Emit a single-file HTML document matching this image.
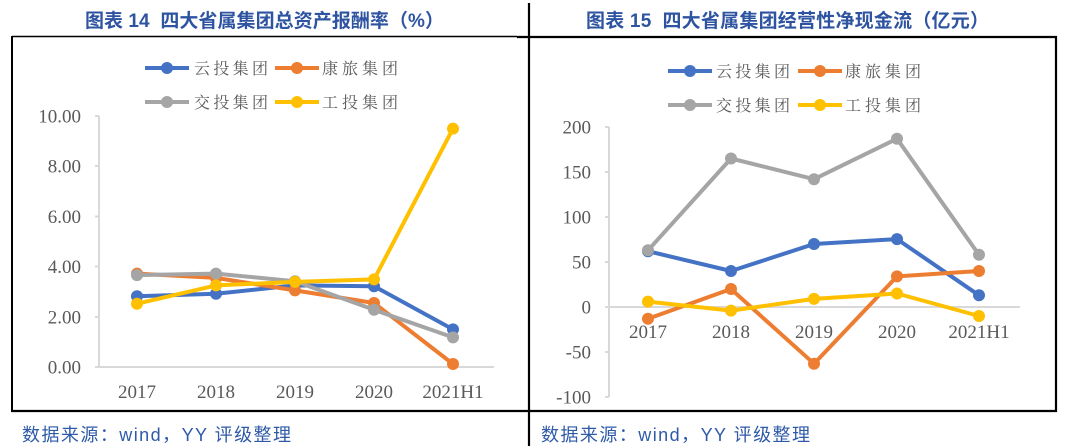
<!DOCTYPE html>
<html>
<head>
<meta charset="utf-8">
<style>
html,body{margin:0;padding:0;background:#fff;}
svg{display:block;}
</style>
</head>
<body>
<svg width="1070" height="446" viewBox="0 0 1070 446" xmlns="http://www.w3.org/2000/svg">
<rect width="1070" height="446" fill="#fff"/>

<!-- frames -->
<line x1="529" y1="3" x2="529" y2="446" stroke="#000" stroke-width="2.2"/>
<line x1="12" y1="36.5" x2="517" y2="36.5" stroke="#000" stroke-width="1.6"/>
<line x1="12" y1="36" x2="12" y2="411" stroke="#000" stroke-width="2"/>
<line x1="11" y1="411" x2="1057" y2="411" stroke="#000" stroke-width="2.2"/>
<line x1="517" y1="37" x2="1057" y2="37" stroke="#000" stroke-width="2.2"/>
<line x1="1056" y1="36" x2="1056" y2="412" stroke="#000" stroke-width="2.2"/>

<!-- titles -->
<text x="85" y="27" style="white-space:pre" font-family="'Liberation Sans','Noto Sans CJK SC',sans-serif" font-weight="bold" font-size="19" fill="#2E54A1" textLength="359" lengthAdjust="spacing">图表 14  四大省属集团总资产报酬率（%）</text>
<text x="586" y="27" style="white-space:pre" font-family="'Liberation Sans','Noto Sans CJK SC',sans-serif" font-weight="bold" font-size="19" fill="#2E54A1" textLength="403" lengthAdjust="spacing">图表 15  四大省属集团经营性净现金流（亿元）</text>

<!-- sources -->
<text x="22" y="441" font-family="'Liberation Sans','Noto Sans CJK SC',sans-serif" font-size="18" fill="#2E5AA8" textLength="269" lengthAdjust="spacing">数据来源：wind，YY 评级整理</text>
<text x="541" y="441" font-family="'Liberation Sans','Noto Sans CJK SC',sans-serif" font-size="18" fill="#2E5AA8" textLength="269" lengthAdjust="spacing">数据来源：wind，YY 评级整理</text>

<!-- ===== LEFT CHART ===== -->
<g font-family="'Noto Serif CJK SC','Liberation Serif',serif" font-size="16" fill="#595959">
  <line x1="145" y1="68" x2="189" y2="68" stroke="#4472C4" stroke-width="4"/><circle cx="167" cy="68" r="6" fill="#4472C4"/>
  <text x="194" y="74" textLength="74" lengthAdjust="spacing">云投集团</text>
  <line x1="275" y1="68" x2="319" y2="68" stroke="#ED7D31" stroke-width="4"/><circle cx="297" cy="68" r="6" fill="#ED7D31"/>
  <text x="322" y="74" textLength="76" lengthAdjust="spacing">康旅集团</text>
  <line x1="145" y1="102" x2="189" y2="102" stroke="#A5A5A5" stroke-width="4"/><circle cx="167" cy="102" r="6" fill="#A5A5A5"/>
  <text x="194" y="108" textLength="74" lengthAdjust="spacing">交投集团</text>
  <line x1="275" y1="102" x2="319" y2="102" stroke="#FFC000" stroke-width="4"/><circle cx="297" cy="102" r="6" fill="#FFC000"/>
  <text x="322" y="108" textLength="76" lengthAdjust="spacing">工投集团</text>
</g>

<g stroke="#D9D9D9" stroke-width="2">
  <line x1="99" y1="116" x2="99" y2="368"/>
  <line x1="98" y1="367" x2="494" y2="367"/>
  <line x1="95" y1="116" x2="99" y2="116"/>
  <line x1="95" y1="166" x2="99" y2="166"/>
  <line x1="95" y1="216.5" x2="99" y2="216.5"/>
  <line x1="95" y1="266.5" x2="99" y2="266.5"/>
  <line x1="95" y1="317" x2="99" y2="317"/>
  <line x1="95" y1="367" x2="99" y2="367"/>
</g>
<g font-family="'Liberation Serif',serif" font-size="19" fill="#595959" text-anchor="end">
  <text x="81" y="122.5">10.00</text>
  <text x="81" y="172.5">8.00</text>
  <text x="81" y="223">6.00</text>
  <text x="81" y="273">4.00</text>
  <text x="81" y="323.5">2.00</text>
  <text x="81" y="373.5">0.00</text>
</g>
<g font-family="'Liberation Serif',serif" font-size="19" fill="#595959" text-anchor="middle">
  <text x="137" y="398">2017</text>
  <text x="216" y="398">2018</text>
  <text x="295" y="398">2019</text>
  <text x="374" y="398">2020</text>
  <text x="453" y="398">2021H1</text>
</g>

<polyline fill="none" stroke-width="4" stroke-linejoin="round" stroke="#4472C4" points="137,296.2 216,293.7 295,285.4 374,286.2 453,329.4"/>
<g fill="#4472C4"><circle cx="137" cy="296.2" r="6"/><circle cx="216" cy="293.7" r="6"/><circle cx="295" cy="285.4" r="6"/><circle cx="374" cy="286.2" r="6"/><circle cx="453" cy="329.4" r="6"/></g>
<polyline fill="none" stroke-width="4" stroke-linejoin="round" stroke="#ED7D31" points="137,273.6 216,277.9 295,290.4 374,303 453,364"/>
<g fill="#ED7D31"><circle cx="137" cy="273.6" r="6"/><circle cx="216" cy="277.9" r="6"/><circle cx="295" cy="290.4" r="6"/><circle cx="374" cy="303" r="6"/><circle cx="453" cy="364" r="6"/></g>
<polyline fill="none" stroke-width="4" stroke-linejoin="round" stroke="#A5A5A5" points="137,275.1 216,273.6 295,281.2 374,309.8 453,337.4"/>
<g fill="#A5A5A5"><circle cx="137" cy="275.1" r="6"/><circle cx="216" cy="273.6" r="6"/><circle cx="295" cy="281.2" r="6"/><circle cx="374" cy="309.8" r="6"/><circle cx="453" cy="337.4" r="6"/></g>
<polyline fill="none" stroke-width="4" stroke-linejoin="round" stroke="#FFC000" points="137,303.7 216,285.4 295,281.9 374,279.4 453,128.6"/>
<g fill="#FFC000"><circle cx="137" cy="303.7" r="6"/><circle cx="216" cy="285.4" r="6"/><circle cx="295" cy="281.9" r="6"/><circle cx="374" cy="279.4" r="6"/><circle cx="453" cy="128.6" r="6"/></g>

<!-- ===== RIGHT CHART ===== -->
<g font-family="'Noto Serif CJK SC','Liberation Serif',serif" font-size="16" fill="#595959">
  <line x1="668" y1="71" x2="712" y2="71" stroke="#4472C4" stroke-width="4"/><circle cx="690" cy="71" r="6" fill="#4472C4"/>
  <text x="716" y="77" textLength="74" lengthAdjust="spacing">云投集团</text>
  <line x1="798" y1="71" x2="842" y2="71" stroke="#ED7D31" stroke-width="4"/><circle cx="820" cy="71" r="6" fill="#ED7D31"/>
  <text x="845" y="77" textLength="76" lengthAdjust="spacing">康旅集团</text>
  <line x1="668" y1="105" x2="712" y2="105" stroke="#A5A5A5" stroke-width="4"/><circle cx="690" cy="105" r="6" fill="#A5A5A5"/>
  <text x="716" y="111" textLength="74" lengthAdjust="spacing">交投集团</text>
  <line x1="798" y1="105" x2="842" y2="105" stroke="#FFC000" stroke-width="4"/><circle cx="820" cy="105" r="6" fill="#FFC000"/>
  <text x="845" y="111" textLength="76" lengthAdjust="spacing">工投集团</text>
</g>

<g stroke="#D9D9D9" stroke-width="2">
  <line x1="609" y1="127" x2="609" y2="397"/>
  <line x1="608" y1="307" x2="1020" y2="307"/>
  <line x1="605" y1="127" x2="609" y2="127"/>
  <line x1="605" y1="172" x2="609" y2="172"/>
  <line x1="605" y1="217" x2="609" y2="217"/>
  <line x1="605" y1="262" x2="609" y2="262"/>
  <line x1="605" y1="307" x2="609" y2="307"/>
  <line x1="605" y1="352" x2="609" y2="352"/>
  <line x1="605" y1="397" x2="609" y2="397"/>
</g>
<g font-family="'Liberation Serif',serif" font-size="19" fill="#595959" text-anchor="end">
  <text x="591" y="133.5">200</text>
  <text x="591" y="178.5">150</text>
  <text x="591" y="223.5">100</text>
  <text x="591" y="268.5">50</text>
  <text x="591" y="313.5">0</text>
  <text x="591" y="358.5">-50</text>
  <text x="591" y="403.5">-100</text>
</g>
<g font-family="'Liberation Serif',serif" font-size="19" fill="#595959" text-anchor="middle">
  <text x="648" y="338">2017</text>
  <text x="731" y="338">2018</text>
  <text x="814" y="338">2019</text>
  <text x="897" y="338">2020</text>
  <text x="979" y="338">2021H1</text>
</g>

<polyline fill="none" stroke-width="4" stroke-linejoin="round" stroke="#4472C4" points="648,251.2 731,271 814,244 897,239.1 979,295.3"/>
<g fill="#4472C4"><circle cx="648" cy="251.2" r="6"/><circle cx="731" cy="271" r="6"/><circle cx="814" cy="244" r="6"/><circle cx="897" cy="239.1" r="6"/><circle cx="979" cy="295.3" r="6"/></g>
<polyline fill="none" stroke-width="4" stroke-linejoin="round" stroke="#ED7D31" points="648,318.7 731,289 814,363.7 897,276.4 979,271"/>
<g fill="#ED7D31"><circle cx="648" cy="318.7" r="6"/><circle cx="731" cy="289" r="6"/><circle cx="814" cy="363.7" r="6"/><circle cx="897" cy="276.4" r="6"/><circle cx="979" cy="271" r="6"/></g>
<polyline fill="none" stroke-width="4" stroke-linejoin="round" stroke="#A5A5A5" points="648,250.3 731,158.5 814,179.2 897,138.7 979,254.8"/>
<g fill="#A5A5A5"><circle cx="648" cy="250.3" r="6"/><circle cx="731" cy="158.5" r="6"/><circle cx="814" cy="179.2" r="6"/><circle cx="897" cy="138.7" r="6"/><circle cx="979" cy="254.8" r="6"/></g>
<polyline fill="none" stroke-width="4" stroke-linejoin="round" stroke="#FFC000" points="648,301.6 731,310.6 814,298.9 897,293.5 979,316"/>
<g fill="#FFC000"><circle cx="648" cy="301.6" r="6"/><circle cx="731" cy="310.6" r="6"/><circle cx="814" cy="298.9" r="6"/><circle cx="897" cy="293.5" r="6"/><circle cx="979" cy="316" r="6"/></g>
</svg>
</body>
</html>
